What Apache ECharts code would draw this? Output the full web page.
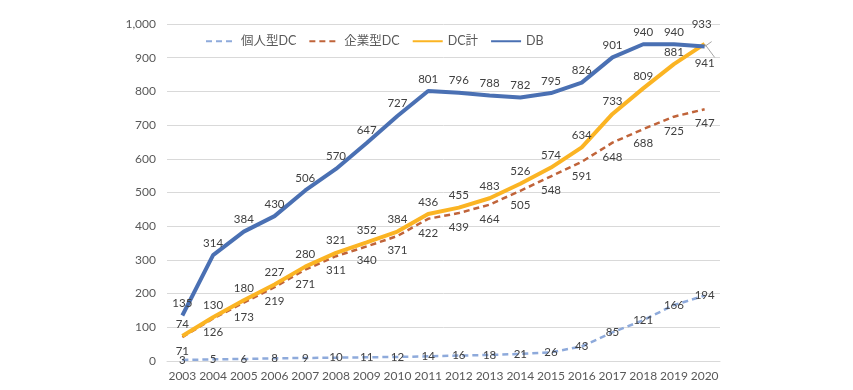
<!DOCTYPE html>
<html><head><meta charset="utf-8">
<script src="https://cdn.jsdelivr.net/npm/echarts@6/dist/echarts.min.js"></script>
<style>html,body{margin:0;padding:0;background:#fff}#c{width:853px;height:390px}</style>
</head><body><div id="c"></div>
<script>
var years = ['2003','2004','2005','2006','2007','2008','2009','2010','2011','2012','2013','2014','2015','2016','2017','2018','2019','2020'];
var kojinDC = [3,5,6,8,9,10,11,12,14,16,18,21,26,43,85,121,166,194];
var kigyoDC = [71,126,173,219,271,311,340,371,422,439,464,505,548,591,648,688,725,747];
var dcTotal = [74,130,180,227,280,321,352,384,436,455,483,526,574,634,733,809,881,941];
var db = [135,314,384,430,506,570,647,727,801,796,788,782,795,826,901,940,940,933];
var yTicks = [0,100,200,300,400,500,600,700,800,900,1000];

var FONT = "Lato, 'Noto Sans CJK JP', sans-serif";
var labelBase = {show:true, fontSize:11.5, color:'#404040', fontFamily:FONT, opacity:1};
var last = years.length - 1;

function withLast(arr, extra){
  return arr.map(function(v,i){ return i===last ? Object.assign({value:v}, extra) : v; });
}
function mk(){ return {color:'rgba(0,0,0,0)', borderWidth:0}; }

var chart = echarts.init(document.getElementById('c'));
chart.setOption({
  animation:false,
  backgroundColor:'#fff',
  textStyle:{fontFamily:FONT},
  grid:{left:167, right:133, top:24, bottom:29, containLabel:false},
  legend:{
    left:200, top:30, itemWidth:30, itemHeight:14, itemGap:12,
    textStyle:{fontSize:12.5, color:'#595959', fontFamily:FONT},
    data:['個人型DC','企業型DC','DC計','DB']
  },
  xAxis:{
    type:'category', data:years, boundaryGap:true,
    axisLine:{show:true, lineStyle:{color:'#d9d9d9'}},
    axisTick:{show:false},
    axisLabel:{color:'#595959', fontSize:12, margin:9, interval:0, fontFamily:FONT}
  },
  yAxis:{
    type:'value', min:0, max:1000, interval:100,
    axisLine:{show:false}, axisTick:{show:false},
    splitLine:{lineStyle:{color:'#d9d9d9', width:1}},
    axisLabel:{color:'#595959', fontSize:12, margin:11, fontFamily:FONT,
      formatter:function(v){ return v.toLocaleString('en-US'); }}
  },
  series:[
    {name:'個人型DC', type:'line', data:kojinDC, symbol:'circle', symbolSize:1, showSymbol:true, z:3,
     lineStyle:{color:'#8eaadb', width:2.5, type:[6,4]}, itemStyle:mk(),
     label:Object.assign({}, labelBase, {position:'inside'})},
    {name:'企業型DC', type:'line', data:kigyoDC, symbol:'circle', symbolSize:1, showSymbol:true, z:4,
     lineStyle:{color:'#c0643a', width:2.5, type:[6,4]}, itemStyle:mk(),
     label:Object.assign({}, labelBase, {position:'bottom', distance:8})},
    {name:'DC計', type:'line', symbol:'circle', symbolSize:1, showSymbol:true, z:5,
     data:withLast(dcTotal, {label:{position:'bottom', distance:13}, labelLine:{show:true, lineStyle:{color:'#a6a6a6', width:1}}}),
     lineStyle:{color:'#fbb423', width:4}, itemStyle:mk(),
     label:Object.assign({}, labelBase, {position:'top', distance:6})},
    {name:'DB', type:'line', symbol:'circle', symbolSize:1, showSymbol:true, z:6,
     data:withLast(db, {label:{position:'top', distance:16, offset:[-3,0]}, labelLine:{show:true, lineStyle:{color:'#a6a6a6', width:1}}}),
     lineStyle:{color:'#4a70b3', width:4}, itemStyle:mk(),
     label:Object.assign({}, labelBase, {position:'top', distance:6})}
  ]
});
</script></body></html>
